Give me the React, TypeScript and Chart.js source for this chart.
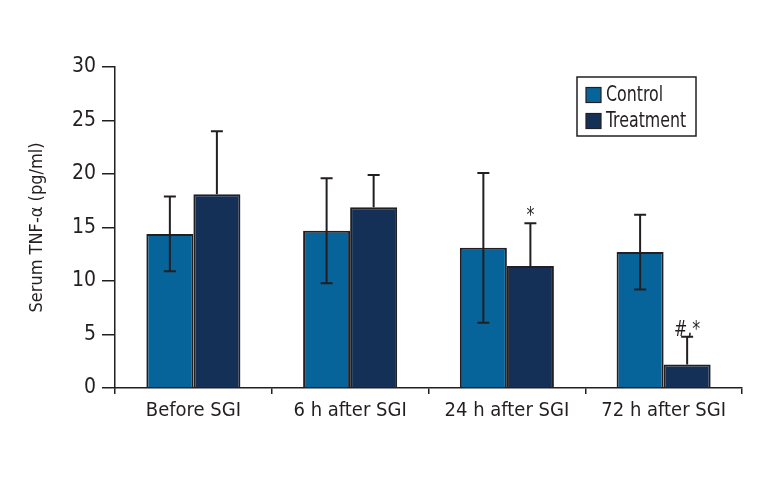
import React, { useEffect, useRef } from "react";
import { Chart, registerables } from "chart.js";

Chart.register(...registerables);

const categories = ["Before SGI", "6 h after SGI", "24 h after SGI", "72 h after SGI"];
const controlValues = [14.4, 14.7, 13.1, 12.7];
const controlErrors = [3.5, 4.9, 7.0, 3.5];
const treatmentValues = [18.1, 16.9, 11.4, 2.2];
const treatmentErrors = [5.9, 3.0, 4.0, 2.6];
const treatmentMarks = ["", "", "*", "#,*"];
const seriesLabels = ["Control", "Treatment"];
const yTicks = [0, 5, 10, 15, 20, 25, 30];

const FONT = "'DejaVu Sans Condensed', 'DejaVu Sans', sans-serif";
const INK = "#231f20";
const CONTROL_COLOR = "#06649a";
const TREATMENT_COLOR = "#143057";

function squeezedText(ctx: any, text: string, x: number, y: number, sx: number) {
  ctx.save();
  ctx.translate(x, y);
  ctx.scale(sx, 1);
  ctx.fillText(text, 0, 0);
  ctx.restore();
}

const errorBarPlugin = {
  id: "errorBars",
  afterDatasetsDraw(chart: any) {
    const ctx = chart.ctx;
    const yScale = chart.scales.y;
    const errs = [controlErrors, treatmentErrors];
    const showLower = [true, false];
    ctx.save();
    ctx.strokeStyle = INK;
    ctx.lineWidth = 2;
    chart.data.datasets.forEach((ds: any, di: number) => {
      const meta = chart.getDatasetMeta(di);
      meta.data.forEach((bar: any, i: number) => {
        const v = ds.data[i];
        const e = errs[di][i];
        const x = bar.x;
        const yTop = yScale.getPixelForValue(v + e);
        const yMid = yScale.getPixelForValue(v);
        const yBot = showLower[di] ? yScale.getPixelForValue(v - e) : yMid;
        const cap = 6;
        ctx.beginPath();
        ctx.moveTo(x, yTop);
        ctx.lineTo(x, yBot);
        ctx.moveTo(x - cap, yTop);
        ctx.lineTo(x + cap, yTop);
        if (showLower[di]) {
          ctx.moveTo(x - cap, yBot);
          ctx.lineTo(x + cap, yBot);
        }
        ctx.stroke();
        if (di === 1 && treatmentMarks[i]) {
          ctx.fillStyle = INK;
          ctx.font = `22px ${FONT}`;
          ctx.textAlign = "center";
          ctx.textBaseline = "alphabetic";
          squeezedText(ctx, treatmentMarks[i], x, yTop - 1, 0.8);
        }
      });
    });
    ctx.restore();
  },
};

const legendPlugin = {
  id: "boxLegend",
  afterDraw(chart: any) {
    const ctx = chart.ctx;
    const bx = 577;
    const by = 77;
    const bw = 119;
    const bh = 59;
    ctx.save();
    ctx.fillStyle = "#ffffff";
    ctx.fillRect(bx, by, bw, bh);
    ctx.strokeStyle = INK;
    ctx.lineWidth = 1.5;
    ctx.strokeRect(bx, by, bw, bh);
    chart.data.datasets.forEach((ds: any, i: number) => {
      const cy = by + 18 + i * 26;
      ctx.fillStyle = ds.backgroundColor;
      ctx.fillRect(bx + 9, cy - 7.5, 15, 15);
      ctx.lineWidth = 1.2;
      ctx.strokeRect(bx + 9, cy - 7.5, 15, 15);
      ctx.fillStyle = INK;
      ctx.font = `22px ${FONT}`;
      ctx.textAlign = "left";
      ctx.textBaseline = "middle";
      squeezedText(ctx, ds.label, bx + 29, cy, 0.8);
    });
    ctx.restore();
  },
};

export default function App() {
  const canvasRef = useRef<HTMLCanvasElement | null>(null);

  useEffect(() => {
    if (!canvasRef.current) return;
    const chart = new Chart(canvasRef.current, {
      type: "bar",
      data: {
        labels: categories,
        datasets: [
          {
            label: seriesLabels[0],
            data: controlValues,
            backgroundColor: CONTROL_COLOR,
            borderColor: INK,
            borderWidth: 2,
            barPercentage: 1,
            categoryPercentage: 0.6,
          },
          {
            label: seriesLabels[1],
            data: treatmentValues,
            backgroundColor: TREATMENT_COLOR,
            borderColor: INK,
            borderWidth: 2,
            barPercentage: 1,
            categoryPercentage: 0.6,
          },
        ],
      },
      options: {
        responsive: false,
        animation: false,
        devicePixelRatio: 1,
        layout: { padding: { left: 0, top: 67, right: 26, bottom: 0 } },
        plugins: {
          legend: { display: false },
          tooltip: { enabled: false },
        },
        scales: {
          x: {
            grid: {
              display: true,
              drawOnChartArea: false,
              drawTicks: true,
              tickLength: 6,
              color: INK,
              lineWidth: 1.5,
              offset: true,
            },
            border: { display: true, color: INK, width: 1.5 },
            ticks: {
              color: INK,
              font: { family: FONT, size: 20 },
              padding: 5,
            },
            afterFit(scale: any) {
              scale.height = 92;
            },
          },
          y: {
            min: 0,
            max: 30,
            afterBuildTicks(scale: any) {
              scale.ticks = yTicks.map((v) => ({ value: v }));
            },
            grid: {
              display: true,
              drawOnChartArea: false,
              drawTicks: true,
              tickLength: 13,
              color: INK,
              lineWidth: 1.5,
            },
            border: { display: true, color: INK, width: 1.5 },
            ticks: {
              color: INK,
              font: { family: FONT, size: 21 },
              padding: 6,
            },
            title: {
              display: true,
              text: "Serum TNF-α (pg/ml)",
              color: INK,
              font: { family: FONT, size: 18 },
              padding: { top: 27, bottom: 0 },
            },
            afterFit(scale: any) {
              scale.width = 115;
            },
          },
        },
      },
      plugins: [errorBarPlugin, legendPlugin],
    });
    return () => chart.destroy();
  }, []);

  return (
    <div style={{ position: "absolute", left: 0, top: 0, width: 768, height: 480, background: "#fff" }}>
      <canvas ref={canvasRef} width={768} height={480} style={{ width: 768, height: 480, display: "block" }} />
    </div>
  );
}
